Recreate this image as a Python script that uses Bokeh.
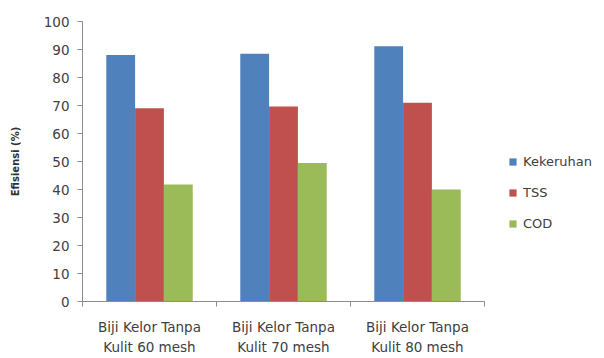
from bokeh.plotting import figure
from bokeh.models import ColumnDataSource, FixedTicker, Legend, LegendItem, Range1d
from bokeh.transform import dodge
from bokeh.embed import file_html
from bokeh.resources import INLINE

categories = ["Biji Kelor Tanpa\nKulit 60 mesh", "Biji Kelor Tanpa\nKulit 70 mesh", "Biji Kelor Tanpa\nKulit 80 mesh"]
kekeruhan = [88.0, 88.5, 91.2]
tss = [69.0, 69.6, 71.0]
cod = [41.8, 49.5, 40.0]
series_names = ["Kekeruhan", "TSS", "COD"]
colors = ["#4F81BD", "#C0504D", "#9BBB59"]
y_ticks = [0, 10, 20, 30, 40, 50, 60, 70, 80, 90, 100]

FONT = "DejaVu Sans"
TXT = "#404040"

n = len(categories)
xpos = [i + 0.5 for i in range(n)]
src = ColumnDataSource(dict(x=xpos, k=kekeruhan, t=tss, c=cod))

# frame spans to the right edge so the legend (drawn inside it) is not clipped;
# the category axis itself only covers 0..n (402 px of the 522 px frame)
x_end = n * 522 / 402

p = figure(width=604, height=358, output_backend="svg", toolbar_location=None,
           x_range=Range1d(0, x_end), y_range=Range1d(0, 100),
           min_border_left=82, min_border_right=0, min_border_top=21, min_border_bottom=57)
p.outline_line_color = None
p.xgrid.grid_line_color = None
p.ygrid.grid_line_color = None
p.background_fill_color = "white"
p.border_fill_color = "white"

bw = 0.215
r1 = p.vbar(x=dodge("x", -bw, range=p.x_range), top="k", width=bw, source=src, fill_color=colors[0], line_color=None)
r2 = p.vbar(x=dodge("x", 0, range=p.x_range), top="t", width=bw, source=src, fill_color=colors[1], line_color=None)
r3 = p.vbar(x=dodge("x", bw, range=p.x_range), top="c", width=bw, source=src, fill_color=colors[2], line_color=None)

# axes
p.xaxis.bounds = (0, n)
p.xaxis.ticker = FixedTicker(ticks=xpos, minor_ticks=list(range(n + 1)))
p.xaxis.major_label_overrides = {x: c for x, c in zip(xpos, categories)}
p.xaxis.major_tick_out = 0
p.xaxis.major_tick_in = 0
p.xaxis.minor_tick_out = 5
p.xaxis.minor_tick_in = 0
p.xaxis.major_label_standoff = 12
p.xaxis.major_label_text_line_height = 1.3

p.yaxis.ticker = FixedTicker(ticks=y_ticks)
p.yaxis.major_tick_out = 5
p.yaxis.major_tick_in = 0
p.yaxis.minor_tick_out = 0
p.yaxis.minor_tick_in = 0
p.yaxis.major_label_standoff = 8
p.yaxis.axis_label = "Efisiensi (%)"
p.yaxis.axis_label_standoff = 20
p.yaxis.axis_label_text_font = FONT
p.yaxis.axis_label_text_font_style = "bold"
p.yaxis.axis_label_text_font_size = "10px"
p.yaxis.axis_label_text_color = "#303030"

for ax in (p.xaxis, p.yaxis):
    ax.axis_line_color = "#8c8c8c"
    ax.major_tick_line_color = "#8c8c8c"
    ax.minor_tick_line_color = "#8c8c8c"
    ax.major_label_text_font = FONT
    ax.major_label_text_font_size = "13.5px"
    ax.major_label_text_color = TXT

legend = Legend(items=[LegendItem(label=series_names[0], renderers=[r1]),
                       LegendItem(label=series_names[1], renderers=[r2]),
                       LegendItem(label=series_names[2], renderers=[r3])],
                location=(426, 70), orientation="vertical")
legend.border_line_color = None
legend.background_fill_alpha = 0
legend.padding = 0
legend.margin = 0
legend.glyph_width = 9
legend.glyph_height = 9
legend.label_standoff = 6
legend.label_height = 14
legend.spacing = 16
legend.label_text_font = FONT
legend.label_text_font_size = "13px"
legend.label_text_color = TXT
p.add_layout(legend, "center")

open("out.html", "w").write(file_html(p, INLINE))
